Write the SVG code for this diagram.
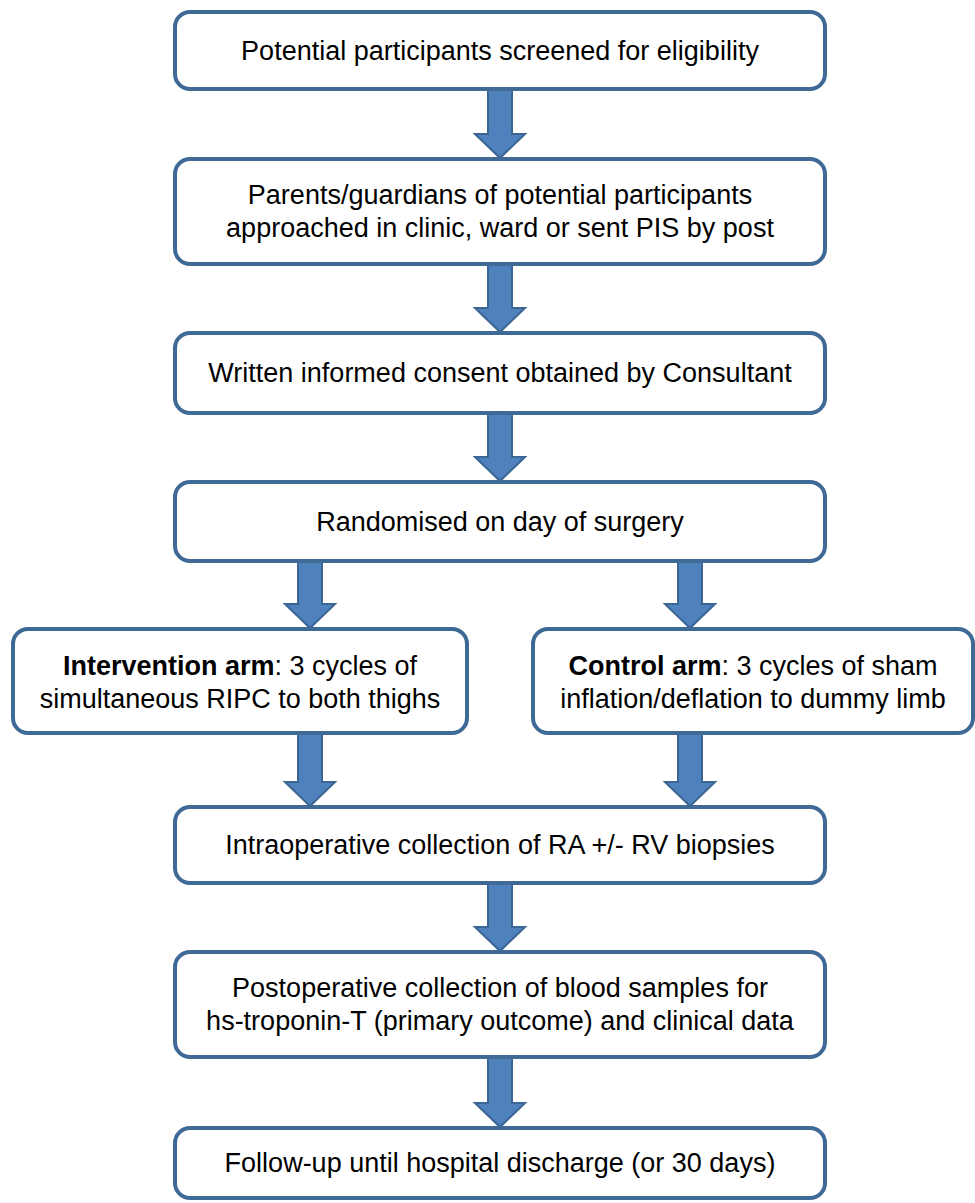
<svg xmlns="http://www.w3.org/2000/svg" width="975" height="1203" viewBox="0 0 975 1203">
<style>
.box{fill:#fff;stroke:#3f6a96;stroke-width:4}
.t{font-family:"Liberation Sans",Arial,sans-serif;font-size:27px;fill:#000;text-anchor:middle}
.b{font-weight:bold}
.arr{fill:#4f81bd;stroke:#3b6593;stroke-width:2}
</style>
<rect width="975" height="1203" fill="#fff"/>
<g id="connectors">
<path class="arr" d="M488,90 H512 V134 H525 L500,158 L475,134 H488 Z"/>
<path class="arr" d="M488,265 H512 V308 H525 L500,332 L475,308 H488 Z"/>
<path class="arr" d="M488,414 H512 V457 H525 L500,481 L475,457 H488 Z"/>
<path class="arr" d="M298,562 H322 V604 H335 L310,628 L285,604 H298 Z"/>
<path class="arr" d="M678,562 H702 V604 H715 L690,628 L665,604 H678 Z"/>
<path class="arr" d="M298,734 H322 V782 H335 L310,806 L285,782 H298 Z"/>
<path class="arr" d="M678,734 H702 V782 H715 L690,806 L665,782 H678 Z"/>
<path class="arr" d="M488,884 H512 V927 H525 L500,951 L475,927 H488 Z"/>
<path class="arr" d="M488,1058 H512 V1103 H525 L500,1127 L475,1103 H488 Z"/>
</g>
<g id="n1"><rect class="box" x="175" y="12" width="650" height="77" rx="15"/>
<text class="t" x="500" y="60">Potential participants screened for eligibility</text></g>
<g id="n2"><rect class="box" x="175" y="159" width="650" height="105" rx="15"/>
<text class="t" x="500" y="204">Parents/guardians of potential participants</text>
<text class="t" x="500" y="237">approached in clinic, ward or sent PIS by post</text></g>
<g id="n3"><rect class="box" x="175" y="333" width="650" height="80" rx="15"/>
<text class="t" x="500" y="382">Written informed consent obtained by Consultant</text></g>
<g id="n4"><rect class="box" x="175" y="482" width="650" height="79" rx="15"/>
<text class="t" x="500" y="531">Randomised on day of surgery</text></g>
<g id="n5"><rect class="box" x="13" y="629" width="454" height="104" rx="15"/>
<text class="t" x="240" y="675"><tspan class="b">Intervention arm</tspan>: 3 cycles of</text>
<text class="t" x="240" y="708">simultaneous RIPC to both thighs</text></g>
<g id="n6"><rect class="box" x="533" y="629" width="440" height="104" rx="15"/>
<text class="t" x="753" y="675"><tspan class="b">Control arm</tspan>: 3 cycles of sham</text>
<text class="t" x="753" y="708">inflation/deflation to dummy limb</text></g>
<g id="n7"><rect class="box" x="175" y="807" width="650" height="76" rx="15"/>
<text class="t" x="500" y="854">Intraoperative collection of RA +/- RV biopsies</text></g>
<g id="n8"><rect class="box" x="175" y="952" width="650" height="105" rx="15"/>
<text class="t" x="500" y="997">Postoperative collection of blood samples for</text>
<text class="t" x="500" y="1030">hs-troponin-T (primary outcome) and clinical data</text></g>
<g id="n9"><rect class="box" x="175" y="1128" width="650" height="70" rx="15"/>
<text class="t" x="500" y="1172">Follow-up until hospital discharge (or 30 days)</text></g>
</svg>
